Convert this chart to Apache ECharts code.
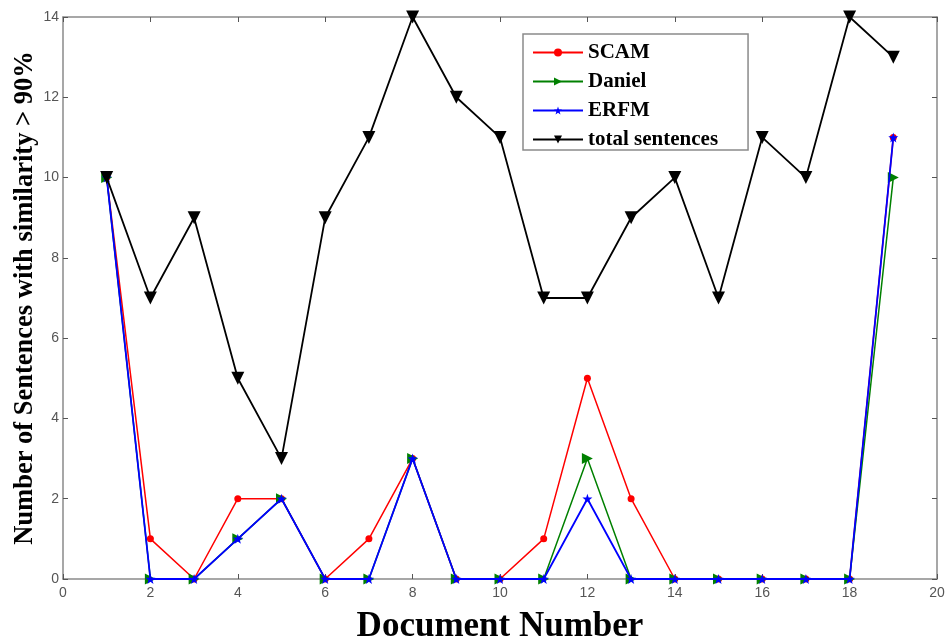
<!DOCTYPE html>
<html>
<head>
<meta charset="utf-8">
<script src="https://cdn.jsdelivr.net/npm/echarts@6/dist/echarts.min.js"></script>
<style>
html,body{margin:0;padding:0;background:#fff;}
#chart{width:947px;height:639px;}
</style>
</head>
<body>
<div id="chart"></div>
<script>
var documents = [1,2,3,4,5,6,7,8,9,10,11,12,13,14,15,16,17,18,19];
var scam   = [10,1,0,2,2,0,1,3,0,0,1,5,2,0,0,0,0,0,11];
var daniel = [10,0,0,1,2,0,0,3,0,0,0,3,0,0,0,0,0,0,10];
var erfm   = [10,0,0,1,2,0,0,3,0,0,0,2,0,0,0,0,0,0,11];
var total  = [10,7,9,5,3,9,11,14,12,11,7,7,9,10,7,11,10,14,13];
var seriesNames = ['SCAM','Daniel','ERFM','total sentences'];
var xTicks = [0,2,4,6,8,10,12,14,16,18,20];
var yTicks = [0,2,4,6,8,10,12,14];

function pairs(vals){ return documents.map(function(d,i){ return [d, vals[i]]; }); }

var starPath = 'path://M0,-10L2.35,-3.24L9.51,-3.09L3.8,1.24L5.88,8.09L0,4L-5.88,8.09L-3.8,1.24L-9.51,-3.09L-2.35,-3.24Z';
var axisGray = '#8a8a8a';
var serif = '"Liberation Serif","Times New Roman",serif';
var sans = '"Liberation Sans",Arial,sans-serif';

function xAxisCfg(pos, show){
  return {
    type:'value', position:pos, min:xTicks[0], max:xTicks[xTicks.length-1], interval:2,
    axisLine:{show:true, onZero:false, lineStyle:{color:axisGray, width:1.5}},
    axisTick:{show:true, inside:true, length:5, lineStyle:{color:'#555', width:1}},
    axisLabel:{show:show, color:'#555', fontSize:14, fontFamily:sans, margin:7},
    splitLine:{show:false}
  };
}
function yAxisCfg(pos, show){
  return {
    type:'value', position:pos, min:yTicks[0], max:yTicks[yTicks.length-1], interval:2,
    axisLine:{show:true, onZero:false, lineStyle:{color:axisGray, width:1.5}},
    axisTick:{show:true, inside:true, length:5, lineStyle:{color:'#555', width:1}},
    axisLabel:{show:show, color:'#555', fontSize:14, fontFamily:sans, margin:4},
    splitLine:{show:false}
  };
}

var xb = xAxisCfg('bottom', true);
xb.name = 'Document Number';
xb.nameLocation = 'middle';
xb.nameGap = 30;
xb.nameMoveOverlap = false;
xb.nameTextStyle = {fontFamily:serif, fontWeight:'bold', fontSize:35, color:'#000'};
var yl = yAxisCfg('left', true);
yl.name = 'Number of Sentences with similarity > 90%';
yl.nameLocation = 'middle';
yl.nameGap = 24;
yl.nameMoveOverlap = false;
yl.nameTextStyle = {fontFamily:serif, fontWeight:'bold', fontSize:26.5, color:'#000'};

var chart = echarts.init(document.getElementById('chart'), null, {renderer:'canvas'});
chart.setOption({
  animation:false,
  backgroundColor:'#fff',
  grid:{left:63, top:17, right:10, bottom:60, containLabel:false, outerBoundsMode:'none'},
  legend:{
    orient:'vertical', left:523, top:34,
    data:seriesNames,
    backgroundColor:'#fff',
    borderColor:axisGray, borderWidth:1.5, borderRadius:0,
    padding:[8,30,0,9],
    itemWidth:50, itemHeight:10, itemGap:8,
    textStyle:{fontFamily:serif, fontWeight:'bold', fontSize:21, color:'#000'}
  },
  xAxis:[xb, xAxisCfg('top', false)],
  yAxis:[yl, yAxisCfg('right', false)],
  series:[
    {name:seriesNames[0], type:'line', data:pairs(scam), color:'#ff0000',
     symbol:'circle', symbolSize:7, lineStyle:{width:1.5}, z:2},
    {name:seriesNames[1], type:'line', data:pairs(daniel), color:'#008000',
     symbol:'triangle', symbolRotate:-90, symbolSize:11, lineStyle:{width:1.5}, z:3},
    {name:seriesNames[2], type:'line', data:pairs(erfm), color:'#0000ff',
     symbol:starPath, symbolSize:10, lineStyle:{width:1.8}, z:4},
    {name:seriesNames[3], type:'line', data:pairs(total), color:'#000000',
     symbol:'triangle', symbolRotate:180, symbolSize:13, lineStyle:{width:1.8}, z:5}
  ]
});
</script>
</body>
</html>
